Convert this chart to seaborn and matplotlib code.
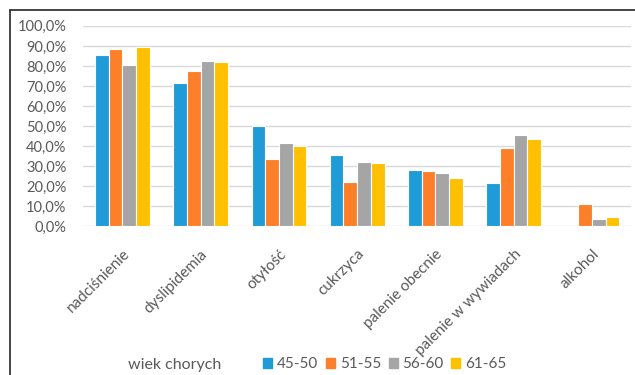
import numpy as np
import pandas as pd
import matplotlib
matplotlib.use("Agg")
import matplotlib.pyplot as plt
from matplotlib.lines import Line2D
from matplotlib.ticker import FuncFormatter, MultipleLocator
from matplotlib.transforms import ScaledTranslation
import seaborn as sns

categories = ["nadciśnienie", "dyslipidemia", "otyłość", "cukrzyca",
              "palenie obecnie", "palenie w wywiadach", "alkohol"]
age_groups = ["45-50", "51-55", "56-60", "61-65"]

v_45_50 = [85.4, 71.4, 50.1, 35.4, 28.1, 21.5, 0.0]
v_51_55 = [88.7, 77.4, 33.3, 22.1, 27.5, 38.9, 11.0]
v_56_60 = [80.7, 82.7, 41.4, 32.1, 26.3, 45.4, 3.5]
v_61_65 = [89.4, 82.2, 40.1, 31.3, 24.1, 43.4, 4.8]

colors = ["#1F9BD7", "#FE7F2A", "#A5A5A5", "#FFC000"]

series = [v_45_50, v_51_55, v_56_60, v_61_65]
df = pd.DataFrame({
    "kategoria": np.repeat([categories], len(age_groups), axis=0).ravel(),
    "wiek": np.repeat(age_groups, len(categories)),
    "wartosc": np.concatenate(series),
})

sns.set_theme(style="white")
plt.rcParams["font.family"] = ["Lato", "DejaVu Sans"]

fig = plt.figure(figsize=(6.35, 3.75), dpi=100)
ax = fig.add_axes([0.131, 0.397, 0.863, 0.534])

sns.barplot(data=df, x="kategoria", y="wartosc", hue="wiek",
            order=categories, hue_order=age_groups, palette=colors,
            saturation=1, width=0.7, edgecolor="white", linewidth=0.8,
            errorbar=None, ax=ax, legend=False, zorder=3)

ax.set_ylim(0, 100)
ax.yaxis.set_major_locator(MultipleLocator(10))
ax.yaxis.set_major_formatter(FuncFormatter(lambda v, p: f"{v:.1f}%".replace(".", ",")))
ax.grid(axis="y", color="#D9D9D9", linewidth=1.0, zorder=0)
ax.set_axisbelow(True)
for s in ax.spines.values():
    s.set_visible(False)
ax.set_xlabel("")
ax.set_ylabel("")
ax.tick_params(axis="y", length=0, pad=12, labelsize=10.5, labelcolor="#595959")
ax.tick_params(axis="x", length=0, pad=15, labelsize=11, labelcolor="#595959")
shift = ScaledTranslation(0 / 100, 0, fig.dpi_scale_trans)
for lbl in ax.get_xticklabels():
    lbl.set_rotation(45)
    lbl.set_ha("right")
    lbl.set_rotation_mode("anchor")
    lbl.set_transform(lbl.get_transform() + shift)

# legend along the bottom, with its title to the left
handles = [plt.Rectangle((0, 0), 1, 1, color=c) for c in colors]
leg = fig.legend(handles, age_groups, loc="center left",
                 bbox_to_anchor=(0.393, 0.028), ncol=4, frameon=False,
                 handlelength=0.6, handleheight=0.6, handletextpad=0.3,
                 columnspacing=0.5, fontsize=11)
for t in leg.get_texts():
    t.set_color("#595959")
fig.text(0.202, 0.026, "wiek chorych", ha="left", va="center",
         fontsize=11.5, color="#595959")

# chart frame
fy = 1 - 10 / 375
fx = 10 / 635
fig.add_artist(Line2D([fx, 1.0], [fy, fy], color="#262626", linewidth=1.2))
fig.add_artist(Line2D([fx, fx], [0.0, fy], color="#262626", linewidth=1.2))

fig.savefig("out.png", dpi=100, facecolor="white")
